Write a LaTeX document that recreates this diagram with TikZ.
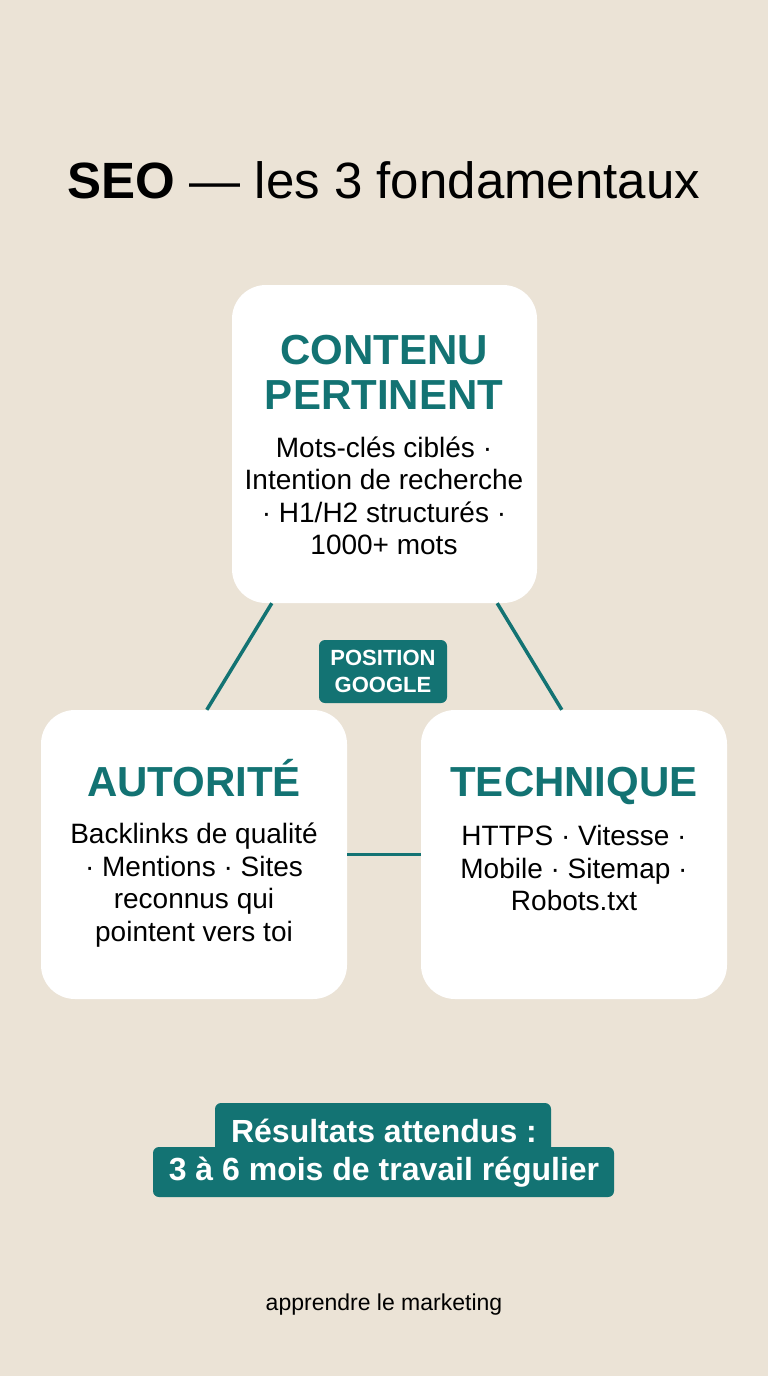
\documentclass[tikz,border=0pt]{standalone}
\usepackage{fontspec}
\setmainfont{Liberation Sans}
\usetikzlibrary{positioning,calc}
\definecolor{fond}{HTML}{EBE3D6}
\definecolor{teal}{HTML}{137373}

\begin{document}
\begin{tikzpicture}[x=1pt,y=-1pt,
	carte/.style={fill=white, rounded corners=34pt, inner sep=0pt},
	titre/.style={text=teal, font=\fontsize{42}{45}\selectfont\bfseries, align=center},
	corps/.style={font=\fontsize{28}{32.5}\selectfont, align=center},
	pastille/.style={fill=teal, text=white, rounded corners=6pt, align=center},
	lien/.style={teal, line width=3.5pt}]
	\fill[fond] (0,0) rectangle (768,1376);
	\useasboundingbox (0,0) rectangle (768,1376);

	\node (titreseo) at (384,180) {\fontsize{51}{56}\selectfont\textbf{SEO} --- les 3 fondamentaux};

	\node[carte, minimum width=305pt, minimum height=318pt] (contenu) at (384.5,444) {};
	\node[carte, minimum width=306pt, minimum height=289pt] (autorite) at (194,854.5) {};
	\node[carte, minimum width=306pt, minimum height=289pt] (technique) at (574,854.5) {};

	\node[titre] (tcontenu) at (384,372) {CONTENU\\PERTINENT};
	\node[corps] (ccontenu) at (384,496) {Mots-clés ciblés ·\\Intention de recherche\\· H1/H2 structurés ·\\1000+ mots};
	\node[titre, anchor=base] (tautorite) at (194,796) {AUTORITÉ};
	\node[corps] (cautorite) at (194,885) {Backlinks de qualité\\· Mentions · Sites\\reconnus qui\\pointent vers toi};
	\node[titre, anchor=base] (ttechnique) at (574,796) {TECHNIQUE};
	\node[corps] (ctechnique) at (574,868) {HTTPS · Vitesse ·\\Mobile · Sitemap ·\\Robots.txt};

	\draw[lien] ($(contenu.south west)+(40,0)$) -- ($(autorite.north west)+(166,0)$);
	\draw[lien] ($(contenu.south east)+(-40,0)$) -- ($(technique.north west)+(141,0)$);
	\draw[lien] (autorite.east) -- (technique.west);

	\node[pastille, minimum width=128pt, minimum height=63pt, font=\fontsize{22}{27}\selectfont\bfseries] (google) at (383,671.5) {POSITION\\GOOGLE};

	\fill[teal, rounded corners=6pt] (215,1103) rectangle (551,1160);
	\fill[teal, rounded corners=6pt] (153,1147) rectangle (614,1197);
	\node[text=white, font=\fontsize{32}{38}\selectfont\bfseries, align=center] (resultats) at (384,1153) {Résultats attendus :\\3 à 6 mois de travail régulier};

	\node[font=\fontsize{23}{26}\selectfont] (pied) at (384,1305) {apprendre le marketing};
\end{tikzpicture}
\end{document}
